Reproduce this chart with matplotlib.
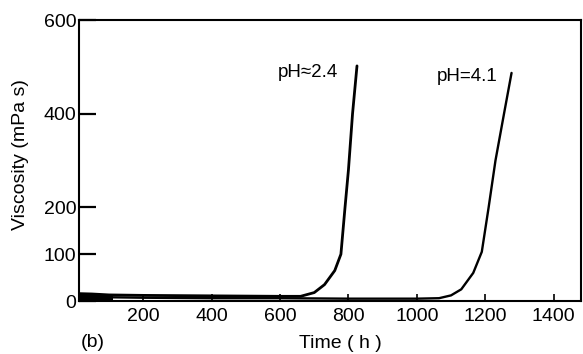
import numpy as np
import matplotlib.pyplot as plt

plt.rcParams['font.family'] = ['Liberation Sans', 'DejaVu Sans']

# viscosity vs. time for the two pH values
time_ph24 = [0, 50, 100, 200, 400, 600, 660, 700, 730, 760, 778, 790, 800, 812, 825]
visc_ph24 = [16, 15, 13, 12, 11, 10, 10, 18, 35, 65, 100, 200, 280, 400, 502]

time_ph41 = [0, 50, 100, 200, 400, 600, 800, 1000, 1065, 1100, 1130, 1165, 1190, 1210, 1230, 1255, 1277]
visc_ph41 = [12, 10, 8, 7, 6, 6, 5, 5, 6, 12, 25, 60, 105, 200, 300, 400, 487]

labels = ["pH\u22482.4", "pH=4.1"]
label_pos = [(594, 487), (1058, 479)]

yticks = [0, 100, 200, 400, 600]
xticks = [200, 400, 600, 800, 1000, 1200, 1400]

fig = plt.figure(figsize=(5.83, 3.54), dpi=100)
ax = fig.add_axes([0.1355, 0.1497, 0.861, 0.7938])

ax.plot(time_ph24, visc_ph24, color='black', lw=2.0, solid_capstyle='round')
ax.plot(time_ph41, visc_ph41, color='black', lw=1.7, solid_capstyle='round')
# dense overlapping start of both runs
ax.fill_between([10, 60, 110], [16, 15, 12], [0, 0, 2], color='black', lw=0)

for text, (tx, ty) in zip(labels, label_pos):
    ax.text(tx, ty, text, fontsize=13.5, ha='left', va='center')

ax.set_xlim(12, 1480)
ax.set_ylim(0, 600)
ax.set_xticks(xticks)
ax.set_yticks(yticks)
ax.tick_params(axis='y', direction='in', length=12, width=1.6, labelsize=14, pad=2)
ax.tick_params(axis='x', direction='in', length=5, width=1.2, labelsize=14, pad=5)
for s in ax.spines.values():
    s.set_linewidth(1.5)

ax.set_ylabel("Viscosity (mPa s)", fontsize=14)
ax.yaxis.set_label_coords(-0.1, 0.52)
ax.set_xlabel("Time ( h )", fontsize=14)
ax.xaxis.set_label_coords(0.52, -0.12)
fig.text(0.138, 0.02, "(b)", fontsize=14, ha='left')

fig.savefig("out.png", dpi=100)
